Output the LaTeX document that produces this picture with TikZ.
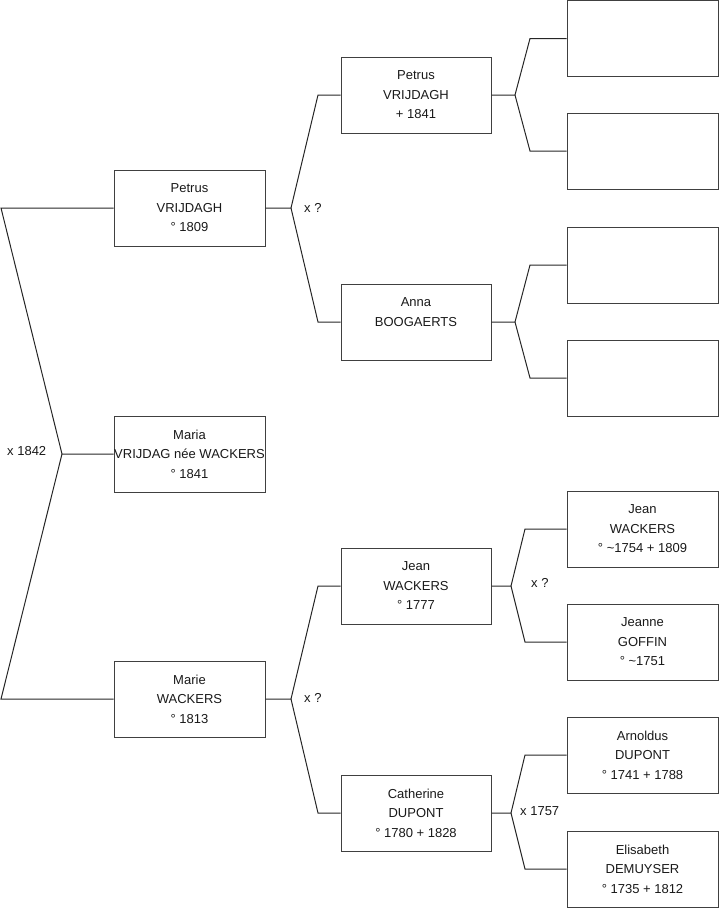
\documentclass[tikz,border=0pt]{standalone}
\usepackage{fontspec}
\setmainfont{Liberation Sans}
\begin{document}
\begin{tikzpicture}[x=1pt,y=-1pt,
  person/.style={draw=black!75, line width=1pt, minimum height=76pt, inner sep=0pt, align=center, font=\fontsize{13}{19.5}\selectfont, text=black!90},
  lvla/.style={person, minimum width=151pt},
  lvlb/.style={person, minimum width=150pt},
  lvlc/.style={person, minimum width=151pt},
  link/.style={draw=black!85, line width=1pt},
  lab/.style={font=\fontsize{13}{15}\selectfont, anchor=west, inner sep=0pt, text=black!90}]
\useasboundingbox (0,0) rectangle (719,908);
% level 1
\node[lvla] (p1) at (189.5,208) {Petrus\\VRIJDAGH\\° 1809};
\node[lvla] (m)  at (189.5,454) {Maria\\VRIJDAG née WACKERS\\° 1841};
\node[lvla] (w)  at (189.5,699) {Marie\\WACKERS\\° 1813};
% level 2
\node[lvlb] (pa) at (416,95)  {Petrus\\VRIJDAGH\\+ 1841};
\node[lvlb] (an) at (416,322) {Anna\\BOOGAERTS\\\mbox{}};
\node[lvlb] (je) at (416,586) {Jean\\WACKERS\\° 1777};
\node[lvlb] (ca) at (416,813) {Catherine\\DUPONT\\° 1780 + 1828};
% level 3
\node[lvlc] (c1) at (642.5,38.5) {\mbox{}\\\mbox{}\\\mbox{}};
\node[lvlc] (c2) at (642.5,151) {\mbox{}\\\mbox{}\\\mbox{}};
\node[lvlc] (c3) at (642.5,265) {\mbox{}\\\mbox{}\\\mbox{}};
\node[lvlc] (c4) at (642.5,378) {\mbox{}\\\mbox{}\\\mbox{}};
\node[lvlc] (c5) at (642.5,529) {Jean\\WACKERS\\° \textasciitilde1754 + 1809};
\node[lvlc] (c6) at (642.5,642) {Jeanne\\GOFFIN\\° \textasciitilde1751};
\node[lvlc] (c7) at (642.5,755) {Arnoldus\\DUPONT\\° 1741 + 1788};
\node[lvlc] (c8) at (642.5,869) {Elisabeth\\DEMUYSER\\° 1735 + 1812};
% junction coordinates
\coordinate (L1) at (1,208);
\coordinate (L2) at (62,454);
\coordinate (L3) at (1,699);
\coordinate (j1) at (291,208);
\coordinate (j1a) at (318,95);
\coordinate (j1b) at (318,322);
\coordinate (j2) at (291,699);
\coordinate (j2a) at (318,586);
\coordinate (j2b) at (318,813);
\coordinate (k1) at (515,95);
\coordinate (k1a) at (530,38.5);
\coordinate (k1b) at (530,151);
\coordinate (k2) at (515,322);
\coordinate (k2a) at (530,265);
\coordinate (k2b) at (530,378);
\coordinate (k3) at (511,586);
\coordinate (k3a) at (525,529);
\coordinate (k3b) at (525,642);
\coordinate (k4) at (511,813);
\coordinate (k4a) at (525,755);
\coordinate (k4b) at (525,869);
% connectors
\draw[link] (p1.west) -- (L1) -- (L2) -- (m.west);
\draw[link] (L2) -- (L3) -- (w.west);
\draw[link] (p1.east) -- (j1) -- (j1a) -- (pa.west);
\draw[link] (j1) -- (j1b) -- (an.west);
\draw[link] (w.east) -- (j2) -- (j2a) -- (je.west);
\draw[link] (j2) -- (j2b) -- (ca.west);
\draw[link] (pa.east) -- (k1) -- (k1a) -- (c1.west);
\draw[link] (k1) -- (k1b) -- (c2.west);
\draw[link] (an.east) -- (k2) -- (k2a) -- (c3.west);
\draw[link] (k2) -- (k2b) -- (c4.west);
\draw[link] (je.east) -- (k3) -- (k3a) -- (c5.west);
\draw[link] (k3) -- (k3b) -- (c6.west);
\draw[link] (ca.east) -- (k4) -- (k4a) -- (c7.west);
\draw[link] (k4) -- (k4b) -- (c8.west);
% labels
\node[lab] (x0) at (7,451) {x 1842};
\node[lab] (x1) at (304,208) {x ?};
\node[lab] (x2) at (304,698) {x ?};
\node[lab] (x3) at (531,583) {x ?};
\node[lab] (x4) at (520,811) {x 1757};
\end{tikzpicture}
\end{document}
